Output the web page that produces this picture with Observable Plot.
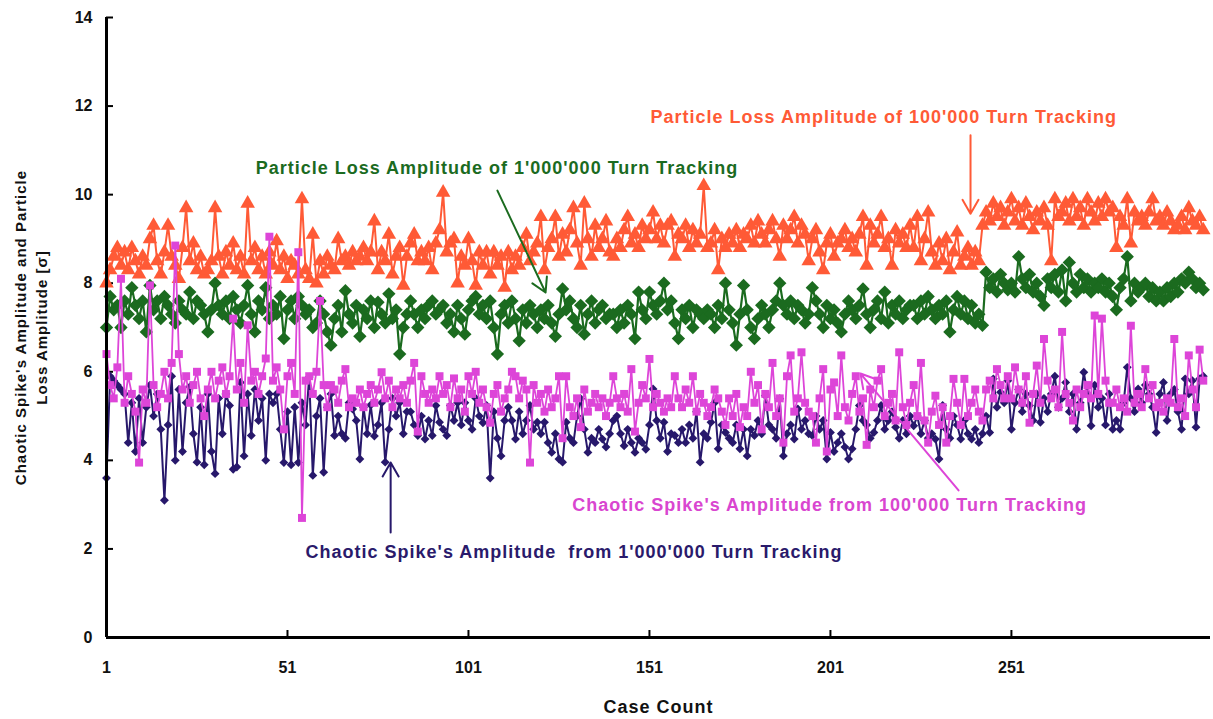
<!DOCTYPE html>
<html><head><meta charset="utf-8">
<script src="https://cdn.jsdelivr.net/npm/d3@7"></script>
<script src="https://cdn.jsdelivr.net/npm/@observablehq/plot@0.6"></script>
<style>
body{margin:0;background:#fff}
g[aria-label="text"] text{letter-spacing:1px}
</style>
</head><body><div id="chart"></div>
<script>
// Particle loss amplitude, 100'000 turn tracking (orange triangles)
const loss100k = [
8.0,8.3,8.6,8.8,8.4,8.7,8.3,8.8,8.5,8.2,8.6,8.4,9.0,9.3,8.5,8.2,8.7,9.3,8.6,8.4,8.1,8.8,9.7,8.5,8.9,8.3,8.6,8.2,
8.3,8.5,9.7,8.6,8.2,8.7,8.4,8.9,8.3,8.6,8.2,9.8,8.5,8.8,8.3,8.6,8.2,8.7,8.4,8.95,8.3,8.6,8.1,8.5,8.4,8.2,9.9,8.3,
8.1,9.1,8.0,8.5,8.2,8.6,8.4,8.3,9.0,8.5,8.6,8.4,8.7,8.5,8.6,8.8,8.5,8.7,9.4,8.3,8.7,8.5,9.1,8.2,8.6,8.8,7.95,8.6,
8.9,9.1,8.5,8.7,8.5,8.8,8.3,8.9,9.2,10.05,8.7,8.9,9.0,8.0,8.6,8.4,9.0,8.5,7.95,8.7,8.4,8.7,8.2,8.7,8.4,8.6,7.9,8.7,
8.3,8.6,8.4,8.8,9.1,8.5,8.7,8.9,9.5,8.3,8.8,9.0,9.5,8.6,9.1,8.7,9.2,9.7,8.9,8.4,9.8,9.0,8.6,9.3,8.8,9.0,9.4,8.7,
8.6,9.0,8.8,9.2,9.5,8.9,9.1,8.8,9.3,9.0,9.2,9.6,9.0,9.3,8.9,9.3,9.4,8.6,9.1,9.0,9.3,8.8,9.2,8.9,9.1,10.2,8.8,
8.9,9.2,8.3,9.0,8.8,9.1,8.9,9.2,8.8,9.1,9.0,9.3,8.9,9.4,9.1,8.9,9.2,9.4,9.0,8.6,9.3,9.0,9.2,9.5,8.9,9.3,9.1,8.5,
9.0,9.2,8.7,8.3,8.9,9.1,8.6,8.9,9.0,9.2,8.8,9.0,8.7,9.1,9.5,8.4,9.3,8.9,9.1,9.5,8.8,9.0,8.4,9.2,8.9,9.1,8.8,9.3,
8.8,9.5,8.5,9.0,9.6,8.7,8.4,8.9,8.5,9.0,8.3,8.7,9.15,8.4,8.6,8.8,8.4,8.7,8.5,9.3,9.6,9.4,9.8,9.5,9.7,9.3,9.6,
9.9,9.4,9.7,9.3,9.8,9.5,9.2,9.6,9.4,9.7,9.3,8.5,9.9,9.5,9.6,9.8,9.4,9.9,9.5,9.7,9.3,9.9,9.6,9.4,9.8,9.5,9.9,9.6,
9.7,8.8,9.5,9.3,9.9,8.9,9.6,9.4,9.5,9.3,9.6,9.9,9.4,9.5,9.3,9.6,9.4,9.2,9.3,9.5,9.2,9.7,9.4,9.3,9.5,9.2
];
// Particle loss amplitude, 1'000'000 turn tracking (green diamonds)
const loss1M = [
7.0,7.7,7.4,7.5,7.0,7.6,7.3,7.9,7.5,7.2,7.6,6.9,7.95,7.4,7.6,7.2,7.7,7.5,7.3,7.1,7.6,7.4,7.3,7.8,7.2,7.6,7.5,7.3,
6.9,7.4,8.0,7.5,7.3,7.6,7.2,7.7,7.4,7.1,7.5,7.95,7.3,6.9,7.6,7.4,7.9,7.2,7.5,7.3,7.7,6.75,7.4,7.6,7.2,7.7,7.5,7.3,
7.4,7.0,7.1,7.6,7.3,6.9,6.6,7.2,7.5,6.9,7.83,7.3,7.1,7.5,6.8,7.4,7.2,7.6,7.0,7.57,7.3,7.1,7.76,7.2,7.4,6.4,7.0,7.3,
7.6,7.3,7.0,7.4,7.2,7.5,7.6,7.3,7.4,7.5,7.1,7.3,6.9,7.5,7.2,6.85,7.4,7.6,7.7,7.3,7.5,7.2,7.6,7.0,6.4,7.3,7.5,7.1,
7.6,7.2,6.7,7.4,7.1,7.5,7.3,7.0,7.4,7.2,7.5,7.1,6.8,7.3,7.87,7.4,7.6,7.2,7.0,7.5,6.85,7.3,7.6,7.1,7.4,7.5,7.2,7.3,
7.3,7.0,7.4,7.1,7.5,7.3,6.75,7.8,7.4,7.2,7.8,7.5,7.3,7.6,8.0,7.4,7.6,7.1,6.75,7.4,7.2,7.5,7.0,7.4,7.3,7.2,7.4,
7.3,7.0,7.5,7.2,8.0,7.4,7.1,6.6,7.3,7.95,7.4,7.0,6.75,7.2,7.5,7.3,7.0,7.4,7.6,8.0,7.5,7.3,7.6,7.2,7.5,7.4,7.1,7.3,
7.9,7.6,7.3,7.0,7.5,7.2,7.4,7.1,6.9,7.3,7.6,7.4,7.2,7.5,7.87,7.3,7.0,7.4,7.6,7.2,7.8,7.1,7.5,7.3,7.6,7.2,7.4,7.5,
7.5,7.2,7.6,7.3,7.7,7.4,7.2,7.5,7.3,7.6,6.9,7.4,7.7,7.3,7.6,7.2,7.5,7.1,7.3,7.05,8.25,7.9,8.1,7.8,8.2,8.0,7.85,
8.0,7.8,8.6,8.1,7.9,8.2,7.8,8.0,7.7,7.5,8.1,7.9,8.2,7.8,8.3,7.6,8.47,8.0,7.8,8.2,7.9,8.1,7.8,8.0,7.9,8.1,7.8,8.0,
7.7,7.4,7.9,8.1,8.6,7.6,8.0,7.8,7.9,8.0,7.7,7.9,7.6,7.8,7.6,7.9,7.7,8.0,7.8,8.1,8.0,8.25,8.1,7.9,8.0,7.85
];
// Chaotic spike amplitude, 100'000 turn tracking (magenta squares)
const spike100k = [
6.4,5.7,5.4,6.1,8.1,5.3,5.9,5.5,5.1,3.95,5.6,5.3,7.95,5.7,5.2,5.5,6.0,5.4,6.2,8.85,6.4,5.6,5.9,5.3,5.7,6.0,5.4,5.0,
5.6,6.0,5.4,5.8,6.1,5.5,5.9,7.2,5.6,6.2,5.3,7.05,5.8,6.0,5.5,5.9,6.3,9.05,5.8,6.1,5.6,4.7,5.9,6.2,5.5,8.7,2.7,5.8,
5.9,5.5,6.0,7.6,5.7,5.2,5.7,5.6,5.3,5.8,6.06,5.2,5.4,5.3,5.6,5.2,5.5,5.7,5.3,5.6,5.99,5.4,5.8,5.2,5.6,5.4,5.7,5.3,
5.8,6.2,4.65,5.9,5.5,5.3,5.6,5.4,5.9,5.5,5.7,5.2,5.85,5.4,5.6,5.1,5.9,5.5,6.0,5.3,5.6,5.2,4.85,5.5,5.7,5.1,5.4,5.6,
6.0,5.9,5.4,5.8,5.6,3.95,5.7,5.3,5.5,5.1,5.6,5.2,5.4,5.9,4.5,5.9,5.2,5.0,5.4,4.75,5.6,5.1,5.3,5.5,5.2,5.4,5.0,5.3,
5.9,5.4,5.2,5.5,5.1,6.06,4.65,5.3,5.7,5.4,6.29,5.2,5.5,5.3,5.1,5.4,5.2,5.9,5.4,5.2,5.6,5.3,5.9,5.1,5.5,5.3,5.0,
5.2,5.6,5.4,5.1,4.8,5.4,5.0,5.5,4.75,5.2,5.0,6.0,5.3,5.7,4.7,5.5,5.2,6.2,5.0,5.4,4.4,5.9,6.37,5.1,5.4,6.44,5.3,5.1,
5.0,4.4,5.4,6.06,4.2,5.6,5.76,5.0,6.37,5.2,4.9,5.5,5.9,5.1,5.4,4.35,5.6,5.2,5.8,6.06,5.0,5.3,5.5,4.9,6.44,5.2,4.8,5.3,
5.7,5.0,6.2,4.9,4.4,5.1,5.46,4.8,5.2,4.4,5.0,5.84,5.3,4.8,5.84,5.0,5.3,5.6,5.1,4.9,5.6,5.8,5.4,6.06,5.7,5.4,5.9,
5.4,6.1,5.6,5.3,5.9,4.85,5.5,6.14,5.3,6.74,5.8,5.4,5.6,5.2,6.9,5.5,5.3,4.9,5.6,5.2,5.5,5.7,5.4,7.27,5.5,7.2,5.8,5.3,
5.3,5.6,5.2,5.4,5.1,7.04,5.3,5.5,5.2,6.06,5.4,5.7,5.2,5.3,5.1,5.4,5.3,6.74,5.2,5.4,5.0,6.37,5.6,5.2,6.5,5.8
];
// Chaotic spike amplitude, 1'000'000 turn tracking (navy diamonds)
const spike1M = [
3.6,5.9,5.8,5.7,5.6,5.5,4.4,5.3,4.2,5.4,4.4,5.2,5.7,5.0,5.5,4.7,3.1,4.8,5.9,4.0,5.6,4.2,5.3,5.66,4.6,3.96,5.2,3.9,
5.5,4.2,3.7,5.4,4.6,5.5,5.24,3.8,3.85,5.76,4.1,5.5,4.56,5.6,4.9,5.4,4.0,5.5,5.3,5.5,4.7,3.95,5.1,3.9,5.2,3.95,5.3,4.8,
5.88,3.66,5.0,5.4,3.73,5.2,5.5,4.56,5.0,4.6,4.5,5.3,5.16,4.9,4.03,5.2,4.6,5.25,4.55,4.8,5.3,3.96,4.7,5.4,5.0,5.3,4.6,5.1,
5.1,4.8,4.56,5.0,4.48,4.9,4.56,5.24,4.86,4.7,4.56,5.24,4.9,5.3,4.8,5.3,4.9,4.7,5.4,5.0,4.85,5.24,3.6,5.1,4.5,4.1,4.9,5.2,
4.9,4.48,5.1,4.6,4.9,5.24,4.7,4.86,4.6,4.86,4.4,4.18,4.6,4.03,3.96,4.86,4.5,4.4,5.0,5.39,4.7,4.18,4.5,4.4,4.7,4.48,4.3,4.6,
4.9,5.0,4.6,4.33,4.7,4.4,4.18,4.5,4.4,4.25,4.8,5.61,4.9,4.5,4.86,4.2,4.6,4.56,4.4,4.7,4.4,4.8,4.5,5.1,3.96,4.6,4.5,
4.86,5.3,4.26,4.8,4.63,4.5,4.4,4.8,4.26,4.7,4.1,4.7,4.56,4.9,4.6,5.46,4.8,4.7,4.5,5.39,4.1,4.6,4.8,4.48,5.16,4.7,4.9,4.6,
4.56,5.0,4.7,4.9,4.03,4.63,4.2,4.4,4.6,4.3,4.03,4.26,4.7,5.24,4.9,4.8,4.5,4.63,4.9,5.24,4.7,4.9,5.1,4.75,4.5,4.9,4.6,5.0,
4.78,5.0,4.6,4.9,4.5,4.6,4.48,4.03,5.24,4.7,4.5,5.0,4.8,4.48,4.9,4.6,4.48,4.7,4.4,4.6,5.0,4.63,5.84,5.2,5.54,5.3,5.8,
4.7,5.3,5.6,5.1,5.5,5.24,4.9,5.5,4.86,5.4,5.1,5.5,5.9,5.2,5.4,5.76,5.1,5.5,4.7,5.3,5.99,5.5,4.78,5.7,5.2,5.4,4.8,5.5,
4.7,4.9,4.7,5.3,6.1,5.4,5.1,5.61,5.3,5.7,5.5,5.2,4.63,5.5,5.76,4.9,5.5,5.6,5.1,4.7,5.84,5.5,5.8,4.75,5.84,5.9
];

const xTicks = [1, 51, 101, 151, 201, 251];
const yTicks = [0, 2, 4, 6, 8, 10, 12, 14];
const xDomain = [1, 306];
const yDomain = [0, 14];

// Annotation texts (anchored at their start, in data units)
const noteText  = ["Particle Loss Amplitude of 100'000 Turn Tracking",
                   "Particle Loss Amplitude of 1'000'000 Turn Tracking",
                   "Chaotic Spike's Amplitude from 100'000 Turn Tracking",
                   "Chaotic Spike's Amplitude  from 1'000'000 Turn Tracking"];
const noteX     = [151.3, 42.2, 129.7, 56.0];
const noteY     = [11.74, 10.59, 2.98, 1.92];
// Annotation arrows (data units)
const arrowX1 = [239.7, 109.0, 236.4, 79.5];
const arrowY1 = [11.34, 10.09, 3.32, 2.37];
const arrowX2 = [239.7, 122.3, 209.3, 79.5];
const arrowY2 = [9.57, 7.79, 5.96, 3.95];

const colors = ["#ff5a36", "#1b6b1f", "#dd45d8", "#27186b"];
const textColors = ["#ff5a36", "#1b6b1f", "#d946d0", "#2a1a6b"];

const rows = a => a.map((v, i) => ({x: i + 1, y: v}));
const notes = noteText.map((t, i) => ({t, x: noteX[i], y: noteY[i], c: textColors[i]}));
const arrows = arrowX1.map((_, i) => ({x1: arrowX1[i], y1: arrowY1[i], x2: arrowX2[i], y2: arrowY2[i], c: colors[i]}));

const W = 1213, H = 719, ML = 106, MR = 3, MT = 17, MB = 82;
const tickLen = 7 * (xDomain[1] - xDomain[0]) / (W - ML - MR);
const tickLenY = 7 * (yDomain[1] - yDomain[0]) / (H - MT - MB);

const series = [
  {d: rows(loss100k), c: colors[0], sym: "triangle", r: 5.4, sw: 2},
  {d: rows(loss1M), c: colors[1], sym: "diamond2", r: 6, sw: 2.2},
  {d: rows(spike1M), c: colors[3], sym: "diamond2", r: 4, sw: 2},
  {d: rows(spike100k), c: colors[2], sym: "square", r: 4.5, sw: 1.8}
];

const marks = [];
for (const s of series) {
  marks.push(Plot.line(s.d, {x: "x", y: "y", stroke: s.c, strokeWidth: s.sw}));
  marks.push(Plot.dot(s.d, {x: "x", y: "y", symbol: s.sym, r: s.r, fill: s.c, stroke: "none"}));
}

const chart = Plot.plot({
  width: W, height: H,
  marginLeft: ML, marginRight: MR, marginTop: MT, marginBottom: MB,
  style: {fontFamily: "'Liberation Sans', Arial, sans-serif", fontWeight: "bold", fontSize: "16px", background: "#fff", color: "#111"},
  x: {domain: xDomain},
  y: {domain: yDomain},
  marks: [
    Plot.axisY({ticks: yTicks, tickSize: 0, tickPadding: 14, label: null, fontSize: 16}),
    Plot.axisX({ticks: xTicks, tickSize: 0, tickPadding: 24, label: null, fontSize: 16}),
    Plot.ruleY(yTicks.slice(1), {x1: xDomain[0], x2: xDomain[0] + tickLen, stroke: "#000", strokeWidth: 2}),
    Plot.ruleX(xTicks.slice(1), {y1: 0, y2: tickLenY, stroke: "#000", strokeWidth: 2}),
    ...marks,
    Plot.ruleX([xDomain[0]], {stroke: "#000", strokeWidth: 3}),
    Plot.ruleY([0], {stroke: "#000", strokeWidth: 3}),
    Plot.arrow(arrows, {x1: "x1", y1: "y1", x2: "x2", y2: "y2", stroke: "c", strokeWidth: 2, headLength: 12}),
    Plot.text(notes, {x: "x", y: "y", text: "t", fill: "c", textAnchor: "start", fontSize: 18, fontWeight: "bold"}),
    Plot.text(["Chaotic Spike's Amplitude and Particle\nLoss Amplitude [σ]"], {frameAnchor: "left", textAnchor: "middle", rotate: -90, dx: -77, lineHeight: 1.45, fontSize: 15, fontWeight: "bold", fill: "#111"}),
    Plot.text(["Case Count"], {frameAnchor: "bottom", dy: 75, fontSize: 18, fontWeight: "bold", fill: "#111"})
  ]
});
document.getElementById("chart").appendChild(chart);
</script>
</body></html>
